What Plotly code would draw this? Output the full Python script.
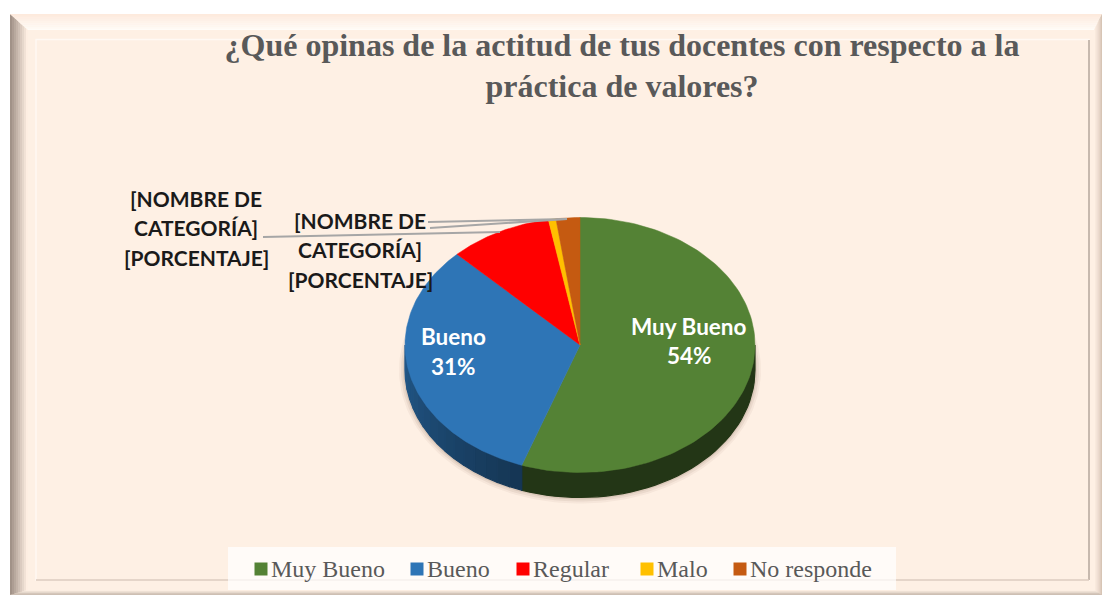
import numpy as np
import plotly.graph_objects as go

# ---------- data ----------
categories = ["Muy Bueno", "Bueno", "Regular", "Malo", "No responde"]
slice_values = [55.4, 32.2, 9.5, 0.7, 2.2]   # angular share as seen in the tilted pie
colors = ["#548235", "#2E75B6", "#FF0000", "#FFC000", "#C55A11"]
title_text = "¿Qué opinas de la actitud de tus docentes con respecto a la<br>práctica de valores?"
placeholder_lines = ["[NOMBRE DE", "CATEGORÍA]", "[PORCENTAJE]"]
shown_labels = [["Muy Bueno", "54%"], ["Bueno", "31%"]]

# ---------- layout constants ----------
W, H = 1103, 597
CX, CY, RX, RY, DEPTH = 580, 345, 175, 127.5, 25
BG = "#FEF0E4"
SERIF = "Liberation Serif"
SANS = "Lato"

fig = go.Figure()

def ell(a):
    return CX + RX * np.sin(a), CY - RY * np.cos(a)

def shade(hex_c, f):
    r, g, b = int(hex_c[1:3], 16), int(hex_c[3:5], 16), int(hex_c[5:7], 16)
    return f"rgb({int(r*f)},{int(g*f)},{int(b*f)})"

cum = np.cumsum([0] + slice_values) / sum(slice_values) * 2 * np.pi

# soft shadow below the pie
for grow, alpha in [(6, 0.05), (4, 0.07), (2, 0.10)]:
    t = np.linspace(0, 2 * np.pi, 200)
    x, y = ell(t)
    fig.add_trace(go.Scatter(x=CX + (x - CX) * (RX + grow) / RX,
                             y=CY + DEPTH + (y - CY) * (RY + grow) / RY,
                             mode="lines", fill="toself", fillcolor=f"rgba(90,60,30,{alpha})",
                             line=dict(width=0), hoverinfo="skip", showlegend=False))

# extruded side, only the lower half of the ellipse shows
for i, c in enumerate(colors):
    lo, hi = max(cum[i], np.pi / 2), min(cum[i + 1], 3 * np.pi / 2)
    if hi <= lo:
        continue
    edges = np.linspace(lo, hi, 17 if i == 1 else 2)
    for a0, a1 in zip(edges[:-1], edges[1:]):
        t = np.linspace(a0, a1, 40 if i != 1 else 8)
        x, y = ell(t)
        xs = np.r_[x, x[::-1], x[0]]
        ys = np.r_[y, y[::-1] + DEPTH, y[0]]
        mid = (a0 + a1) / 2
        f = 0.42 if i == 0 else 0.46 + 0.30 * (mid - cum[1]) / (3 * np.pi / 2 - cum[1])
        col = shade(c, f)
        fig.add_trace(go.Scatter(x=xs, y=ys, mode="lines", fill="toself", fillcolor=col,
                                 line=dict(color=col, width=1.2), hoverinfo="skip", showlegend=False))

# top face
for i, (name, c) in enumerate(zip(categories, colors)):
    t = np.linspace(cum[i], cum[i + 1], 120)
    x, y = ell(t)
    fig.add_trace(go.Scatter(x=np.r_[CX, x, CX], y=np.r_[CY, y, CY], mode="lines", fill="toself",
                             fillcolor=c, line=dict(color=c, width=0.5), name=name,
                             hoverinfo="name", showlegend=False))

shapes = []
def rect(x0, y0, x1, y1, fill, line=None, width=0):
    shapes.append(dict(type="rect", xref="x", yref="y", x0=x0, y0=y0, x1=x1, y1=y1,
                       fillcolor=fill, line=dict(color=line or fill, width=width), layer="below"))

def poly(pts, fill):
    p = "M" + " L".join(f"{a},{b}" for a, b in pts) + " Z"
    shapes.append(dict(type="path", xref="x", yref="y", path=p, fillcolor=fill, line=dict(width=0), layer="below"))

# bevelled frame
OL, OT, OR, OB = 10, 14, 1102, 595
IL, IT, IR, IB = 28, 30, 1094, 590
rect(OL, OT, OR, OB, BG)
steps = 9
def L(a, b, f):
    return a + (b - a) * f
def mix(a, b, f):
    return "#%02X%02X%02X" % tuple(int(a[j] + (b[j] - a[j]) * f) for j in range(3))
for k in range(steps):
    f0, f1 = k / steps, (k + 1) / steps
    lx0, lx1 = L(OL, IL, f0), L(OL, IL, f1)
    ty0, ty1 = L(OT, IT, f0), L(OT, IT, f1)
    rx0, rx1 = L(OR, IR, f0), L(OR, IR, f1)
    by0, by1 = L(OB, IB, f0), L(OB, IB, f1)
    poly([(lx0, ty0), (lx1, ty1), (lx1, by1), (lx0, by0)], mix((150, 135, 125), (254, 238, 226), f1))
    poly([(lx0, ty0), (rx0, ty0), (rx1, ty1), (lx1, ty1)], mix((253, 232, 218), (255, 252, 248), f1))
    poly([(rx0, ty0), (rx1, ty1), (rx1, by1), (rx0, by0)], mix((205, 185, 170), (254, 240, 228), f1))
    poly([(lx0, by0), (rx0, by0), (rx1, by1), (lx1, by1)], mix((175, 160, 148), (254, 240, 228), f1))
# inner thin frame
rect(36, 39.5, 1089, 580, "rgba(0,0,0,0)", "rgba(255,250,245,0.9)", 1.5)
shapes.append(dict(type="line", xref="x", yref="y", x0=1089, x1=1089, y0=40, y1=580,
                   line=dict(color="#B5A498", width=1.5), layer="below"))
shapes.append(dict(type="line", xref="x", yref="y", x0=36, x1=1089, y0=580, y1=580,
                   line=dict(color="#DCCABC", width=1.5), layer="below"))
# legend panel
rect(228, 547, 896, 590, "rgba(255,255,255,0.72)")

# leader lines
for (x0, y0, x1, y1) in [(263, 237, 500, 232), (428, 222, 567, 219), (430, 228, 567, 219)]:
    shapes.append(dict(type="line", xref="x", yref="y", x0=x0, y0=y0, x1=x1, y1=y1,
                       line=dict(color="#A6A6A6", width=2), layer="above"))

# legend (markers + labels)
swatch_x = [261, 417, 523, 647, 740]
text_x = [269, 425, 531, 655, 748]
fig.add_trace(go.Scatter(x=swatch_x, y=[569] * 5, mode="markers",
                         marker=dict(symbol="square", size=13, color=colors),
                         hoverinfo="skip", showlegend=False))
ann = []
for tx, name in zip(text_x, categories):
    ann.append(dict(x=tx, y=569, xref="x", yref="y", text=name, showarrow=False, xanchor="left",
                    yanchor="middle", font=dict(family=SERIF, size=24, color="#595959")))

for cx, ys in [(196, [198, 227, 257]), (360, [220, 249, 279])]:
    for yy, line_text in zip(ys, placeholder_lines):
        ann.append(dict(x=cx, y=yy, xref="x", yref="y", text=line_text, showarrow=False,
                        font=dict(family=SANS, size=21, color="#1A1A1A", weight="bold")))
for cx, ys, lines in [(689, [326, 355], shown_labels[0]), (453, [336, 366], shown_labels[1])]:
    for yy, line_text in zip(ys, lines):
        ann.append(dict(x=cx, y=yy, xref="x", yref="y", text=line_text, showarrow=False,
                        font=dict(family=SANS, size=22.5, color="white", weight="bold")))

fig.update_layout(
    width=W, height=H, margin=dict(l=0, r=0, t=0, b=0),
    paper_bgcolor="white", plot_bgcolor="white", showlegend=False,
    title=dict(text=title_text, x=622 / W, xanchor="center", y=1 - 55.5 / H, yanchor="middle",
               font=dict(family=SERIF, size=32, color="#595959", weight="bold")),
    xaxis=dict(range=[0, W], visible=False, fixedrange=True),
    yaxis=dict(range=[H, 0], visible=False, fixedrange=True),
    shapes=shapes, annotations=ann,
)
fig.write_html("out.html", config=dict(displayModeBar=False),
               post_script="document.body.style.margin='0';")
